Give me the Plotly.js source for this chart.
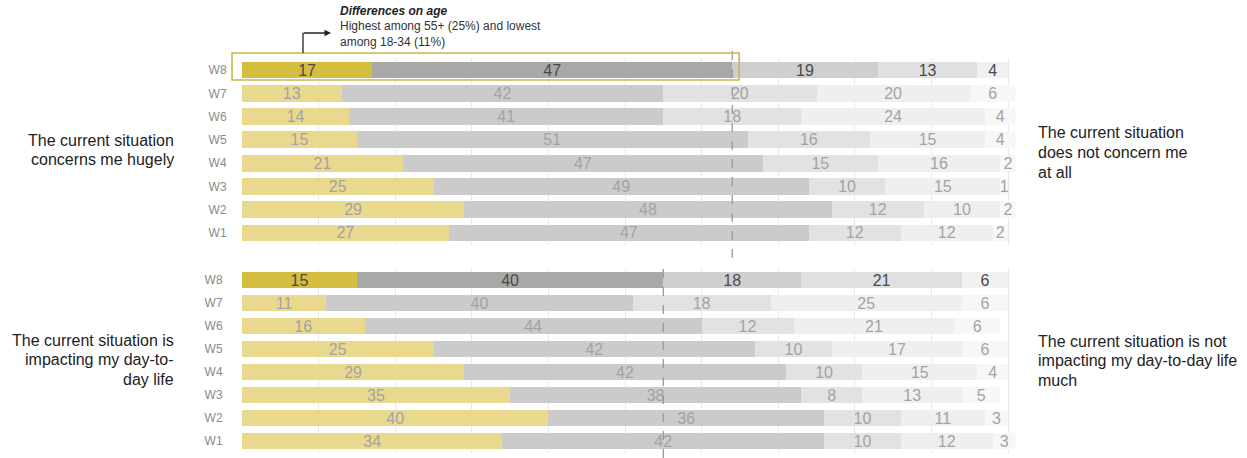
<!DOCTYPE html>
<html>
<head>
<meta charset="utf-8">
<script src="https://cdn.plot.ly/plotly-3.0.1.min.js"></script>
<style>html,body{margin:0;padding:0;background:#fff;}#chart{width:1247px;height:458px;}</style>
</head>
<body>
<div id="chart"></div>
<script>
// ---- DATA ----
var waves = ['W8','W7','W6','W5','W4','W3','W2','W1'];
// Panel 1: concern (hugely -> not at all)
var concern1 = [17,13,14,15,21,25,29,27];
var concern2 = [47,42,41,51,47,49,48,47];
var concern3 = [19,20,18,16,15,10,12,12];
var concern4 = [13,20,24,15,16,15,10,12];
var concern5 = [4,6,4,4,2,1,2,2];
// Panel 2: impacting day-to-day life
var impact1 = [15,11,16,25,29,35,40,34];
var impact2 = [40,40,44,42,42,38,36,42];
var impact3 = [18,18,12,10,10,8,10,10];
var impact4 = [21,25,21,17,15,13,11,12];
var impact5 = [6,6,6,6,4,5,3,3];

var leftLabels = [['The current situation','concerns me hugely'],['The current situation is','impacting my day-to-','day life']];
var rightLabels = [['The current situation','does not concern me','at all'],['The current situation is not','impacting my day-to-day life','much']];
var noteTitle = 'Differences on age';
var noteBody = 'Highest among 55+ (25%) and lowest<br>among 18-34 (11%)';

// ---- STYLE ----
var segColorsHi = ['#d5bd3f','#a8a8a8','#cfcfcf','#e0e0e0','#f1f1f1'];
var segColorsLo = ['#e8d98f','#cbcbcb','#e2e2e2','#efefef','#f7f7f7'];
var txtHi = '#4a4a4a', txtLo = '#a3a3a3';
var FONT = 'Liberation Sans, Arial, sans-serif';

function colorsFor(seg){ return waves.map(function(w,i){ return i===0 ? segColorsHi[seg] : segColorsLo[seg]; }); }
function txtColors(){ return waves.map(function(w,i){ return i===0 ? txtHi : txtLo; }); }

function makeTraces(series, xa, ya){
  return series.map(function(vals, s){
    return {
      type:'bar', orientation:'h', y:waves, x:vals,
      xaxis:xa, yaxis:ya,
      marker:{color:colorsFor(s), line:{width:0}},
      text:vals.map(String), textposition:'inside', insidetextanchor:'middle',
      textangle:0, constraintext:'none',
      textfont:{family:FONT, size:16, color:txtColors()},
      hoverinfo:'skip', showlegend:false
    };
  });
}

var data = makeTraces([concern1,concern2,concern3,concern4,concern5],'x','y')
  .concat(makeTraces([impact1,impact2,impact3,impact4,impact5],'x2','y2'));

var W = 1247, H = 458;
function px(x){ return x / W; }
function py(y){ return 1 - y / H; }

var PXU = 7.66;            // pixels per percentage point
var XMAX = 101;
var xDom = [px(242), px(242 + XMAX * PXU)];
var topDom = [py(244.6), py(58.4)];
var botDom = [py(452.5), py(268.5)];

var xBase = {domain:xDom, range:[0,XMAX], showgrid:true, gridcolor:'#e9e9e9', gridwidth:1, dtick:10,
  showticklabels:false, zeroline:false, showline:false, ticks:'', fixedrange:true};
var yBase = {type:'category', range:[7.5,-0.5], showgrid:false, zeroline:false, showline:false,
  ticks:'outside', tickcolor:'rgba(0,0,0,0)', tickfont:{family:FONT, size:12, color:'#8a8a8a'}};

var cut1 = concern1[0] + concern2[0];
var cut2 = impact1[0] + impact2[0];

var annotations = [
  {xref:'paper', yref:'paper', x:px(331), y:py(33), ax:-29, ay:0, text:'', showarrow:true,
    arrowhead:2, arrowsize:1, arrowwidth:1.3, arrowcolor:'#222'},
  {xref:'paper', yref:'paper', x:px(338), y:py(2), xanchor:'left', yanchor:'top', align:'left',
    text:'<b><i>'+noteTitle+'</i></b>', showarrow:false, font:{family:FONT, size:12, color:'#222'}},
  {xref:'paper', yref:'paper', x:px(338), y:py(17), xanchor:'left', yanchor:'top', align:'left',
    text:noteBody, showarrow:false, font:{family:FONT, size:12, color:'#333'}}
];
function addLines(lines, xPix, yFirst, anchor){
  lines.forEach(function(t, i){
    annotations.push({xref:'paper', yref:'paper', x:px(xPix), y:py(yFirst + i*19.5), xanchor:anchor,
      yanchor:'middle', align:anchor, text:t, showarrow:false, font:{family:FONT, size:16, color:'#222'}});
  });
}
addLines(leftLabels[0], 176, 140, 'right');
addLines(leftLabels[1], 176, 340, 'right');
addLines(rightLabels[0], 1036, 133, 'left');
addLines(rightLabels[1], 1036, 341, 'left');

var layout = {
  width:W, height:H, margin:{l:0,r:0,t:0,b:0},
  paper_bgcolor:'#ffffff', plot_bgcolor:'rgba(0,0,0,0)',
  barmode:'stack', bargap:0.28,
  font:{family:FONT},
  xaxis: Object.assign({}, xBase, {anchor:'y'}),
  yaxis: Object.assign({}, yBase, {domain:topDom, anchor:'x', ticklen:12}),
  xaxis2: Object.assign({}, xBase, {anchor:'y2'}),
  yaxis2: Object.assign({}, yBase, {domain:botDom, anchor:'x2', ticklen:16}),
  shapes:[
    {type:'line', xref:'x domain', yref:'paper', x0:cut1/XMAX, x1:cut1/XMAX, y0:py(258), y1:py(50),
      line:{color:'#9a9a9a', width:1.3, dash:'dash'}, layer:'above'},
    {type:'line', xref:'x2 domain', yref:'paper', x0:cut2/XMAX, x1:cut2/XMAX, y0:py(458), y1:py(262),
      line:{color:'#9a9a9a', width:1.3, dash:'dash'}, layer:'above'},
    {type:'rect', xref:'x domain', yref:'y domain', x0:-1.3/XMAX, x1:(cut1+0.9)/XMAX, y0:0.884, y1:1.029,
      line:{color:'#c9b84a', width:1.6}, fillcolor:'rgba(0,0,0,0)', layer:'above'},
    {type:'line', xref:'paper', yref:'paper', x0:px(303), x1:px(303), y0:py(53), y1:py(33),
      line:{color:'#222', width:1.3}}
  ],
  annotations:annotations
};

Plotly.newPlot('chart', data, layout, {staticPlot:true, displayModeBar:false});
</script>
</body>
</html>
